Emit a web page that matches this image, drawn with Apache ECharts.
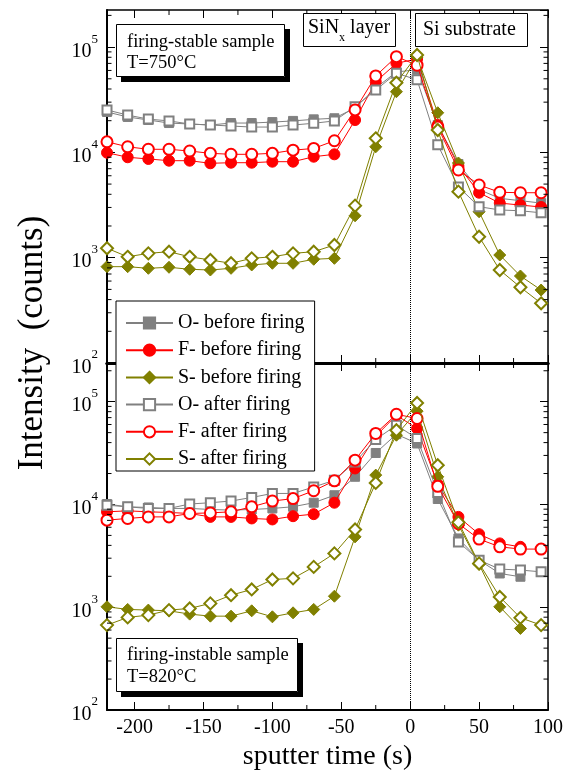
<!DOCTYPE html>
<html><head><meta charset="utf-8">
<script src="https://cdn.jsdelivr.net/npm/echarts@6/dist/echarts.min.js"></script>
<style>html,body{margin:0;padding:0;background:#fff}#c{width:574px;height:776px}</style>
</head><body><div id="c"></div>
<script>
// ---------- data ----------
const times = [-220,-205,-190,-175,-160,-145,-130,-115,-100,-85,-70,-55,-40,-25,-10,5,20,35,50,65,80,95];
const seriesNames = ['O- before firing','F- before firing','S- before firing','O- after firing','F- after firing','S- after firing'];
// top panel: firing-stable sample, T=750°C
const topOBefore = [24200,21700,20300,19000,18600,18200,19000,19000,19400,19900,20600,21100,26400,40900,58000,61000,18200,7760,4440,3660,3480,3300];
const topFBefore = [9930,8990,8660,8340,8340,7880,7980,7980,8160,8160,9100,9590,20300,46900,70200,77100,18200,7430,4140,3300,3160,3030];
const topSBefore = [822,822,793,811,776,764,793,853,885,885,966,986,2500,11300,37700,80400,23800,7930,2730,1060,670,493];
const topOAfter  = [25300,22600,20700,19900,18600,18200,17800,17400,17400,18200,18900,19900,27200,39100,56400,49000,11800,4700,3050,2840,2790,2670];
const topFAfter  = [12600,11300,10700,10700,10300,9800,9590,9590,9800,10500,10900,12900,25300,53200,81100,67300,17400,6810,4900,4180,4140,4140];
const topSAfter  = [1230,1020,1100,1140,1020,951,885,986,1020,1100,1140,1320,3120,13600,45900,84100,16300,4240,1580,764,524,369];
// bottom panel: firing-instable sample, T=820°C
const botOBefore = [10100,9480,9350,9150,9150,8940,8810,8940,9150,9500,10400,12300,18600,31700,48300,39200,11300,4670,2870,2130,1980,null];
const botFBefore = [8480,8670,8480,8360,8170,7570,7570,7310,7150,7690,8050,10400,22400,46200,73900,54800,15700,7570,5140,4180,3870,null];
const botSBefore = [1010,952,938,923,857,819,819,923,807,882,952,1280,4840,19300,47200,80900,18600,6290,2610,1010,622,null];
const botOAfter  = [9850,9480,9150,9150,10100,10400,10800,11700,12800,12800,14800,17200,25900,42900,59100,43800,13100,4320,2870,2350,2300,2210];
const botFAfter  = [7040,7310,7570,7570,8170,8280,8480,9480,10800,11400,13600,17000,27000,49100,75500,68600,15000,6500,4600,3870,3680,3680];
const botSAfter  = [670,796,838,938,973,1090,1310,1490,1860,1910,2470,3340,5710,16200,52800,97300,24100,6700,2670,1260,789,670];
// axis ticks
const xMin = -220, xMax = 100, yMin = 100;
const yMaxTop = 225000, yMaxBot = 238000;
const xMinorTicks = [-175,-125,-75,-25,25,75];
const yMinorTicks = [200,300,400,500,600,700,800,900,2000,3000,4000,5000,6000,7000,8000,9000,20000,30000,40000,50000,60000,70000,80000,90000,200000];

// ---------- styles ----------
const FF = "'Liberation Serif','Times New Roman',serif";
const colors = ['#808080','#ff0000','#808000','#808080','#ff0000','#808000'];
const symbols = ['rect','circle','diamond','emptyRect','emptyCircle','emptyDiamond'];
const sizes = [9,11,12,9,11,12];

function pairs(arr){ const out=[]; arr.forEach((v,i)=>{ if(v!=null) out.push([times[i], v]); }); return out; }

function mkSeries(arrs, xi, yi){
  return arrs.map((arr,k)=>{
    const s = {
      name: seriesNames[k], type:'line', xAxisIndex:xi, yAxisIndex:yi,
      data: pairs(arr), symbol: symbols[k], symbolSize: sizes[k], showAllSymbol:true,
      lineStyle:{color:colors[k], width:1},
      itemStyle:{color:colors[k], borderColor:colors[k], borderWidth:1},
      z: 2 + k
    };
    if(k===0){
      s.markLine = {silent:true, symbol:['none','none'], label:{show:false}, animation:false,
        lineStyle:{type:'dotted', color:'#000', width:1}, data:[{xAxis:0}]};
    }
    return s;
  });
}

function tickSeries(xi, yi, yMax){
  const yt = yMinorTicks.filter(v=>v<yMax);
  const data = yt.map(v=>[xMin, v]).concat(xMinorTicks.map(x=>[x, yMin]));
  return {
    type:'custom', xAxisIndex:xi, yAxisIndex:yi, silent:true, z:10,
    data: data,
    renderItem: (params, api)=>{
      const a = api.value(0), b = api.value(1);
      const st = {stroke:'#000', lineWidth:1};
      if (params.dataIndex < yt.length){
        const pL = api.coord([xMin, b]), pR = api.coord([xMax, b]);
        return {type:'group', children:[
          {type:'line', shape:{x1:pL[0], y1:pL[1], x2:pL[0]+4.5, y2:pL[1]}, style:st},
          {type:'line', shape:{x1:pR[0], y1:pR[1], x2:pR[0]-4.5, y2:pR[1]}, style:st}
        ]};
      }
      const pB = api.coord([a, yMin]), pT = api.coord([a, yMax]);
      return {type:'group', children:[
        {type:'line', shape:{x1:pB[0], y1:pB[1], x2:pB[0], y2:pB[1]-5}, style:st},
        {type:'line', shape:{x1:pT[0], y1:pT[1], x2:pT[0], y2:pT[1]+5}, style:st}
      ]};
    }
  };
}

function xAx(grid, pos, lw, labels, extra){
  return Object.assign({
    type:'value', gridIndex:grid, position:pos, min:xMin, max:xMax, minInterval:50, maxInterval:50,
    axisLine:{onZero:false, lineStyle:{color:'#000', width:lw}},
    axisTick:{inside:true, length:8, lineStyle:{color:'#000', width:1}},
    axisLabel:{show:labels, showMinLabel:false, color:'#000', fontFamily:FF, fontSize:20, margin:8},
    splitLine:{show:false}
  }, extra||{});
}
function yAx(grid, pos, lw, labels, yMax){
  return {
    type:'log', logBase:10, gridIndex:grid, position:pos, min:yMin, max:yMax,
    axisLine:{onZero:false, lineStyle:{color:'#000', width:lw}},
    axisTick:{inside:true, length:8, lineStyle:{color:'#000', width:1}},
    axisLabel:{show:labels, showMaxLabel:false, margin:9,
      formatter: v => '{b|10}{s|' + Math.round(Math.log10(v)) + '}',
      rich:{ b:{fontFamily:FF, fontSize:20, color:'#000', lineHeight:29, verticalAlign:'bottom'},
             s:{fontFamily:FF, fontSize:13, color:'#000', verticalAlign:'top'} }},
    splitLine:{show:false}
  };
}

function boxTitle(text, left, top, padding, textStyle){
  return {
    text: text, left: left, top: top, padding: padding, z: 20,
    backgroundColor:'#fff', borderColor:'#000', borderWidth:1,
    textStyle: Object.assign({fontFamily:FF, fontWeight:'normal', color:'#000'}, textStyle)
  };
}
// black strip (box shadow) built from an empty title background
function strip(left, top, w, h){
  return {
    text:' ', left:left, top:top, z:19,
    padding:[(h-1)/2, (w-0.3)/2, (h-1)/2, (w-0.3)/2],
    backgroundColor:'#000', borderWidth:0,
    textStyle:{fontSize:1, lineHeight:1, color:'#000'}
  };
}

const chart = echarts.init(document.getElementById('c'), null, {renderer:'canvas'});
chart.setOption({
  animation:false,
  backgroundColor:'#fff',
  title:[
    strip(285, 29, 5, 53), strip(121, 77, 169, 5),
    strip(298, 643, 5, 54), strip(121, 692, 182, 5),
    boxTitle('firing-stable sample\nT=750°C', 116, 24, [7,10,3,11], {fontSize:18.5, lineHeight:21.5}),
    boxTitle('{a|SiN}{s|x}{a| layer}', 303, 13, [5,6,3,5], {fontSize:20, lineHeight:26,
      rich:{a:{fontFamily:FF, fontSize:20, color:'#000', lineHeight:20, verticalAlign:'top'},
            s:{fontFamily:FF, fontSize:12, color:'#000', verticalAlign:'bottom'}}}),
    boxTitle('Si substrate', 415, 13, [5,12,5,8], {fontSize:20, lineHeight:24}),
    boxTitle('firing-instable sample\nT=820°C', 116, 638, [6,9,4,11], {fontSize:18.5, lineHeight:22})
  ],
  grid:[
    {left:107, top:10, width:441, height:353},
    {left:107, top:363, width:441, height:347}
  ],
  xAxis:[
    xAx(0,'bottom',3,false),
    xAx(0,'top',1.5,false),
    xAx(1,'bottom',2,true,{name:'sputter time (s)', nameLocation:'middle', nameGap:33,
      nameTextStyle:{color:'#000', fontFamily:FF, fontSize:28}}),
    xAx(1,'top',3,false)
  ],
  yAxis:[
    yAx(0,'left',2,true,yMaxTop),
    yAx(0,'right',1.5,false,yMaxTop),
    yAx(1,'left',2,true,yMaxBot),
    yAx(1,'right',1.5,false,yMaxBot)
  ],
  legend:{
    data:seriesNames, orient:'vertical', left:116, top:301,
    itemWidth:47, itemHeight:14, itemGap:7.2,
    backgroundColor:'#fff', borderColor:'#000', borderWidth:1, borderRadius:0,
    padding:[12,10,2,9], z:50,
    textStyle:{fontFamily:FF, fontSize:20, color:'#000', lineHeight:18}
  },
  series: mkSeries([topOBefore,topFBefore,topSBefore,topOAfter,topFAfter,topSAfter],0,0)
    .concat(mkSeries([botOBefore,botFBefore,botSBefore,botOAfter,botFAfter,botSAfter],2,2))
    .concat([tickSeries(0,0,yMaxTop), tickSeries(2,2,yMaxBot)]),
  graphic:{elements: [
    {type:'text', id:'ytitle', z:100, x:33, y:343, rotation:Math.PI/2,
     style:{text:'Intensity  (counts)', fill:'#000', fontFamily:FF, fontSize:35, align:'center', verticalAlign:'middle'}}
  ]}
});
</script>
</body></html>
